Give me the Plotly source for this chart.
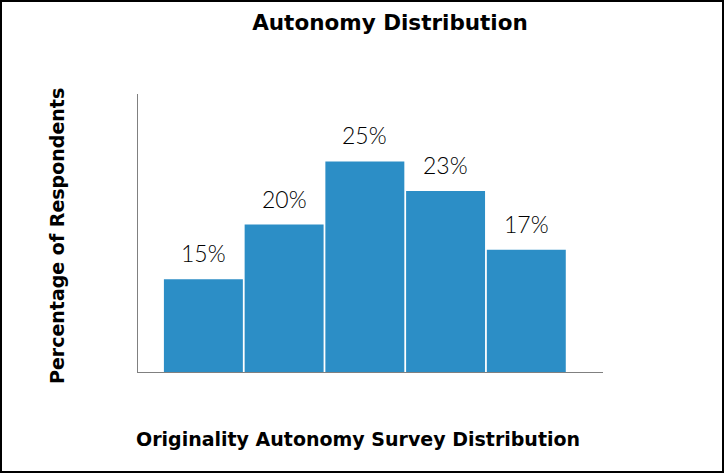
import plotly.graph_objects as go

categories = ["Bin 1", "Bin 2", "Bin 3", "Bin 4", "Bin 5"]
counts = [22, 35, 50, 43, 29]
labels = ["15%", "20%", "25%", "23%", "17%"]

title_text = "Autonomy Distribution"
x_title = "Originality Autonomy Survey Distribution"
y_title = "Percentage of Respondents"

bar_color = "#2C8EC6"
W, H = 724, 473
ml, mr, mt, mb = 138, 121, 94, 101
pw, ph = W - ml - mr, H - mt - mb

xs = list(range(len(categories)))

fig = go.Figure(go.Bar(
    x=xs, y=counts, marker=dict(color=bar_color, line=dict(width=0)),
    hoverinfo="skip", showlegend=False,
))

for xi, yi, lab in zip(xs, counts, labels):
    fig.add_annotation(x=xi, y=yi, text=lab, showarrow=False, xref="x", yref="y",
                       yanchor="bottom", yshift=10,
                       font=dict(family="Lato", size=23, color="#000000", weight=300))

fig.add_annotation(x=(357.5 - ml) / pw, y=-(439 - (H - mb)) / ph, xref="paper", yref="paper",
                   text=x_title, showarrow=False, xanchor="center", yanchor="middle",
                   font=dict(family="DejaVu Sans", size=19, color="#000000", weight="bold"))
fig.add_annotation(x=(57 - ml) / pw, y=(H - mb - 236) / ph, xref="paper", yref="paper",
                   text=y_title, showarrow=False, xanchor="center", yanchor="middle", textangle=-90,
                   font=dict(family="DejaVu Sans", size=19, color="#000000", weight="bold"))

# outer frame
fig.add_shape(type="rect", xref="paper", yref="paper",
              x0=(-ml + 1) / pw, x1=1 + (mr - 1) / pw,
              y0=-(mb - 1) / ph, y1=1 + (mt - 1) / ph,
              line=dict(color="black", width=2), fillcolor="rgba(0,0,0,0)", layer="above")

fig.update_layout(
    width=W, height=H,
    margin=dict(l=ml, r=mr, t=mt, b=mb, pad=0),
    paper_bgcolor="white", plot_bgcolor="white",
    bargap=0.022,
    title=dict(text=title_text, x=390 / W, xref="container", xanchor="center",
               y=1 - 22 / H, yref="container", yanchor="middle",
               font=dict(family="DejaVu Sans", size=21.5, color="#000000", weight="bold")),
    xaxis=dict(range=[-0.81, 4.95], showticklabels=False, ticks="", showgrid=False,
               zeroline=False, showline=True, linecolor="#808080", linewidth=1, fixedrange=True),
    yaxis=dict(range=[0, 66], showticklabels=False, ticks="", showgrid=False,
               zeroline=False, showline=True, linecolor="#808080", linewidth=1, fixedrange=True),
)

fig.write_html("out.html", config={"displayModeBar": False},
               post_script="document.body.style.margin='0';document.body.style.overflow='hidden';")
